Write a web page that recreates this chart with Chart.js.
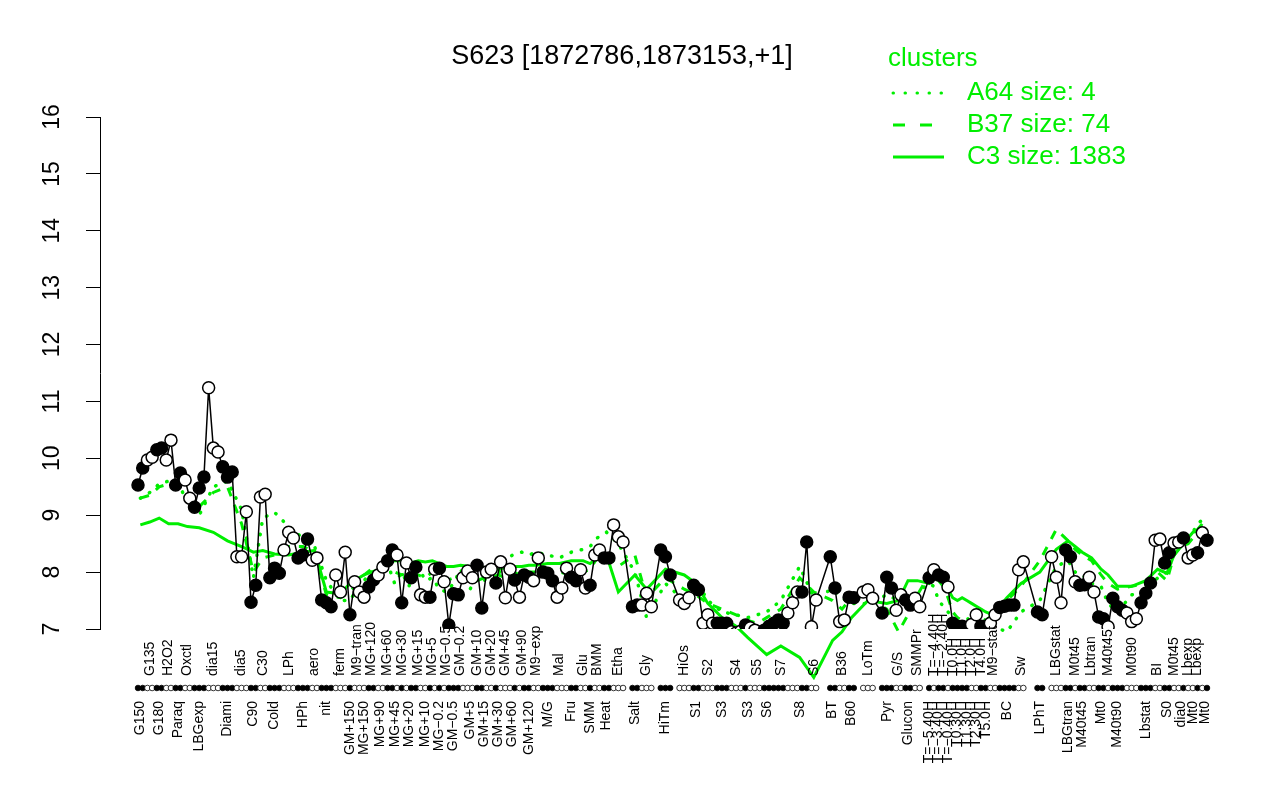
<!DOCTYPE html>
<html><head><meta charset="utf-8">
<script src="https://cdn.jsdelivr.net/npm/chart.js@4.4.1/dist/chart.umd.min.js"></script>
<style>html,body{margin:0;padding:0;background:#fff}canvas{display:block}</style>
</head><body>
<canvas id="c" width="1280" height="800"></canvas>
<script>
// ---------- DATA ----------
const title = "S623 [1872786,1873153,+1]";
const legendTitle = "clusters";
const legendItems = ["A64 size: 4", "B37 size: 74", "C3 size: 1383"];
const yTicks = [7, 8, 9, 10, 11, 12, 13, 14, 15, 16];

// condition groups (tick labels) in order along the x axis
const groups = ["G150","G135","G180","H2O2","Paraq","Oxctl","LBGexp","dia15","Diami","dia5",
 "C90","C30","Cold","LPh","HPh","aero","nit","ferm","GM+150","M9\u2212tran",
 "MG+150","MG+120",
 "MG+90","MG+60","MG+45","MG+30","MG+20","MG+15","MG+10","MG+5","MG\u22120.2","MG\u22120.5",
 "GM\u22120.5","GM\u22120.2","GM+5","GM+10","GM+15","GM+20","GM+30","GM+45","GM+60","GM+90",
 "GM+120",
 "M9\u2212exp","M/G","Mal","Fru","Glu","SMM","BMM","Heat","Etha","Salt",
 "Gly","HiTm","HiOs","S1","S2","S3","S4","S3","S5","S6",
 "S7","S8","S6","BT","B36","B60","LoTm","Pyr","G/S","Glucon",
 "SMMPr","T=\u22125.40H","T=\u22124.40H","T=\u22123.40H","T=\u22122.40H","T=\u22120.40H","T0.0H","T0.30H","T1.0H","T1.30H",
 "T2.0H","T2.30H","T4.0H","T5.0H","M9\u2212stat","BC","Sw","LPhT","LBGstat","LBGtran",
 "M0t45","M40t45","Lbtran","Mt0","M40t45","M40t90","M0t90","Lbstat","BI","S0",
 "M0t45","dia0","Lbexp","Mt0","Lbexp","Mt0"];

// number of sample slots in each group (null slots = spacing gaps between samples)
const groupSizes = [2,2,2,2,2,2,3,3,3,3, 2,2,3,3,3,2,3,3,1,2, 1,2,
 2,1,2,1,2,2,1,2,1,2, 1,2,2,1,2,1,2,1,2,2, 1,
 2,3,2,3,2,1,2,2,4,2, 4,4,3,2,3,3,3,2,2,2, 4,4,4,2,2,3,4,3,2,2,
 3,1,1,1,1,1,1,1,1,1, 1,1,1,1,2,4,4,3,3,2, 1,2,2,2,1,3,3,3,2,2,
 1,2,1,1,1,2];

// expression value of each slot (null = no sample, just spacing)
const values = [
 9.53,9.83, 9.97,10.02, 10.15,10.18, 9.97,10.32, 9.53,9.74, 9.62,9.30, 9.14,9.48,9.67,
 11.24,10.18,10.11, 9.85,9.67,9.76, 8.27,8.27,9.06, 7.47,7.77, 9.32,9.37,
 7.90,8.07,7.98, 8.39,8.70,8.60, 8.25,8.30,8.58, 8.21,8.25, 7.51,7.46,7.39, 7.95,7.65,8.35,
 7.25, 7.83,7.65, 7.56, 7.74,7.86,
 7.95,8.09, 8.20, 8.39,8.30, 7.46, 8.16,7.90, 8.09,7.60, 7.56, 7.56,8.05, 8.07,
 7.83,7.07, 7.62, 7.60,7.90, 8.02, 7.90,8.12, 7.37, 8.00,8.05, 7.81, 8.18,7.55, 8.05,7.86, 7.56,
 7.95,7.91, 7.85,8.25,
 8.00,7.98,7.85, 7.56,7.72, 8.07,7.91,7.85, 8.04,7.72, 7.77, 8.30,8.39, 8.25,8.25,
 8.83,8.62,8.53,null, 7.39,7.42, 7.42,7.63,7.39,null, 8.39,8.27,7.95,null, 7.51,7.45,7.55,
 7.77,7.69, 7.10,7.25,7.10, 7.10,7.10,7.10, 6.95,6.93,6.96, 7.07,7.02, 6.98,6.85, 6.98,7.05,
 7.10,7.16,7.10,7.28, 7.46,7.65,7.65,8.53, 7.04,7.51,null,null,
 8.27,7.72, 7.13,7.16, 7.56,7.55,null, 7.65,7.69,7.54,null, 7.28,7.91,7.72, 7.33,7.60, 7.51,7.42,
 7.54,7.39,null, 7.90, 8.04, 7.95, 7.91, 7.74, 7.10, 7.05, 7.05, 7.03, 7.08, 7.25, 7.05, 7.05,
 7.10,7.25, 7.38,7.40,7.42,7.42, 8.04,8.18,null,null, 7.30,7.25,null, 8.27,7.91,7.46, 8.39,8.27,
 7.83, 7.77,7.78, 7.91,7.65, 7.21,7.18, 7.04, 7.54,7.39,7.33, 7.28,7.13,7.18, 7.46,7.63,7.81,
 8.56,8.58, 8.16,8.34, 8.51, 8.53,8.60, 8.25, 8.30, 8.34, 8.69,8.56];

// marker fill of each slot (same line layout as values): B = filled, W = open, - = no sample
const fills = ("BBWWBBWWBBWWBBB" +
 "WWWBBBWWWBBWW" +
 "BBBWWWBBBWWBBBWWW" +
 "BWWWBB" +
 "WWBBWBWBBWWBWB" +
 "WBBBWWWBBWWBWWWBW" +
 "BBWW" +
 "BBBWWWBBWWBWWBB" +
 "WWW-BBWWW-BBB-WWW" +
 "BBWWWBBBWWWBWWWBB" +
 "BBBWWWBBWW--" +
 "BBWWBB-WWW-BBBWWBB" +
 "WW-BWBBWBBBBWWBB" +
 "WWBBBBWW--BB-WWWBB" +
 "WBBWWBBWBBBWWWBBB" +
 "WWBBWWBWWBWB").split("");

// cluster mean profiles, one value per group
const clusterA = [9.3,9.4,9.55,9.6,9.55,9.25,9.0,9.5,9.6,9.1,
 7.9,8.95,9.05,8.8,8.6,8.45,7.85,7.5,7.5,7.7, 7.85,8.0,
 7.95,8.15,7.8,8.0,7.75,8.1,7.85,7.9,7.7,7.65, 7.8,8.05,7.7,7.9,7.85,8.0,7.95,8.2,8.3,8.35, 8.3,
 8.35,8.3,8.25,8.35,8.4,8.45,8.6,8.7,8.5,8.0, 7.2,7.8,7.5,7.85,7.5,7.3,7.25,7.2,7.25,7.3,
 7.5,8.1,7.55,7.7,7.55,7.45,7.45,7.6,7.5,7.4,
 7.65,7.8,7.75,7.5,7.4,7.3,7.2,7.1,7.05,7.2, 7.1,7.05,7.0,7.1,7.05,6.95,7.3,7.5,8.1,8.2,
 8.0,7.95,7.8,7.75,7.45,7.3,7.6,7.65,7.9,8.0, 8.3,8.5,8.6,8.7,8.85,8.95];
const clusterB = [9.3,9.35,9.5,9.55,9.5,9.3,9.15,9.4,9.5,8.85,
 8.0,8.25,8.3,8.45,8.45,8.35,7.6,7.55,7.65,7.8, 7.95,8.05,
 8.0,8.05,8.0,7.95,8.0,7.95,7.9,8.0,7.95,7.85, 7.9,7.95,7.9,7.85,7.9,7.9,7.95,7.9,8.0,7.95, 8.0,
 8.0,8.05,8.0,7.95,8.0,8.05,8.25,8.3,8.1,8.3, 7.55,7.9,7.7,7.6,7.45,7.35,7.25,7.15,7.1,7.2,
 7.35,7.9,7.65,7.5,7.35,7.55,7.55,7.35,6.95,7.25,
 7.6,7.95,8.0,7.85,7.75,7.55,7.3,7.2,7.15,7.1, 7.1,7.15,7.2,7.15,7.25,7.5,7.75,8.2,8.75,8.55,
 8.4,8.3,8.2,7.95,7.8,7.7,7.75,7.8,8.0,7.85, 8.3,8.45,8.5,8.6,8.75,8.9];
const clusterC = [8.83,8.88,8.95,8.85,8.85,8.8,8.78,8.7,8.55,8.45,
 8.35,8.38,8.32,8.3,8.35,8.38,7.65,7.62,7.8,7.88, 7.95,8.0,
 8.05,8.15,8.2,8.2,8.15,8.2,8.18,8.2,8.15,8.1, 8.1,8.12,8.1,8.1,8.08,8.05,8.05,8.08,8.1,8.1, 8.12,
 8.12,8.15,8.15,8.2,8.2,8.15,8.25,8.3,7.65,7.95, 7.7,8.05,7.95,7.8,7.45,7.2,7.05,6.85,6.7,6.55,
 6.7,6.5,6.15,6.8,6.95,7.2,7.5,7.45,7.5,7.85,
 7.85,7.8,8.0,8.0,7.9,7.7,7.55,7.5,7.55,7.5, 7.45,7.4,7.35,7.3,7.25,7.55,7.8,8.0,8.4,8.55,
 8.45,8.35,8.25,8.05,7.95,7.75,7.75,7.85,8.05,7.98, 8.3,8.45,8.6,8.7,8.72,8.75];

// ---------- DERIVED ----------
const groupCenters = [];
(function(){
  let s = 0;
  groupSizes.forEach(n => {
    const idx = [];
    for (let k = s; k < s + n; k++) if (values[k] !== null) idx.push(k);
    groupCenters.push(idx.reduce((a, b) => a + b, 0) / idx.length);
    s += n;
  });
})();

const GREEN = '#00ee00';
const FONT = '"Liberation Sans", Arial, Helvetica, sans-serif';
Chart.defaults.font.family = FONT;

const ROW_Y = 688, UPPER_Y = 676;

const overlay = {
  id: 'overlay',
  afterDraw(chart) {
    const ctx = chart.ctx, xs = chart.scales.x;
    ctx.save();
    // sample strip
    for (let i = 0; i < values.length; i++) {
      if (values[i] === null) continue;
      const px = xs.getPixelForValue(i);
      ctx.beginPath();
      ctx.arc(px, ROW_Y, 2.8, 0, Math.PI * 2);
      ctx.fillStyle = fills[i] === 'B' ? '#000' : '#fff';
      ctx.fill();
      ctx.lineWidth = 0.8; ctx.strokeStyle = '#000'; ctx.stroke();
    }
    // labels above the strip (odd groups)
    ctx.font = '14px ' + FONT; ctx.fillStyle = '#000';
    ctx.textAlign = 'left'; ctx.textBaseline = 'middle';
    groupCenters.forEach((c, g) => {
      if (g % 2 === 1) {
        const px = xs.getPixelForValue(c);
        ctx.save(); ctx.translate(px, UPPER_Y); ctx.rotate(-Math.PI / 2);
        ctx.fillText(groups[g], 0, 0); ctx.restore();
      }
    });
    // title
    ctx.font = '27px ' + FONT; ctx.textAlign = 'center'; ctx.fillStyle = '#000';
    ctx.fillText(title, 622, 57);
    // legend
    ctx.fillStyle = GREEN; ctx.strokeStyle = GREEN; ctx.textAlign = 'left';
    ctx.font = '26px ' + FONT;
    ctx.fillText(legendTitle, 888, 59);
    const rows = [93, 125, 157];
    const dashes = [[0.5, 11.5], [12, 15], []];
    const caps = ['round', 'butt', 'butt'];
    rows.forEach((ry, k) => {
      ctx.beginPath(); ctx.setLineDash(dashes[k]); ctx.lineCap = caps[k];
      ctx.lineWidth = 3; ctx.moveTo(893, ry); ctx.lineTo(944, ry); ctx.stroke();
      ctx.setLineDash([]);
      ctx.fillText(legendItems[k], 967, ry);
    });
    ctx.restore();
  }
};

const lastIdx = values.length - 1;
new Chart(document.getElementById('c'), {
  type: 'line',
  data: { datasets: [
    { label: 'expression', data: values.map((v, i) => ({x: i, y: v})),
      borderColor: '#000', borderWidth: 1.5, tension: 0, spanGaps: true,
      pointRadius: 6, pointHoverRadius: 6, pointBorderWidth: 1.5,
      pointBackgroundColor: fills.map(f => f === 'B' ? '#000' : '#fff'),
      pointBorderColor: '#000', order: 0 },
    { label: legendItems[2], data: groupCenters.map((c, g) => ({x: c, y: clusterC[g]})),
      borderColor: GREEN, borderWidth: 3, pointRadius: 0, tension: 0, order: 1, clip: false },
    { label: legendItems[1], data: groupCenters.map((c, g) => ({x: c, y: clusterB[g]})),
      borderColor: GREEN, borderWidth: 3, borderDash: [9, 9], pointRadius: 0, tension: 0, order: 2, clip: false },
    { label: legendItems[0], data: groupCenters.map((c, g) => ({x: c, y: clusterA[g]})),
      borderColor: GREEN, borderWidth: 3.5, borderDash: [0.5, 10], borderCapStyle: 'round',
      pointRadius: 0, tension: 0, order: 3, clip: false }
  ]},
  options: {
    responsive: false, animation: false, devicePixelRatio: 1, events: [],
    layout: { padding: { top: 117, right: 30, left: 0, bottom: 0 } },
    plugins: { legend: { display: false }, tooltip: { enabled: false }, title: { display: false } },
    scales: {
      x: { type: 'linear', min: -8.07, max: lastIdx + 9.13,
        grid: { display: false, drawTicks: false }, border: { display: false },
        afterBuildTicks: sc => { sc.ticks = groupCenters.map(v => ({value: v})); },
        afterFit: sc => { sc.height = 171; sc.paddingLeft = 0; sc.paddingRight = 0; },
        ticks: { autoSkip: false, minRotation: 90, maxRotation: 90, padding: 72,
          color: '#000', font: { size: 14 },
          callback: (v, i) => (i % 2 === 0 ? groups[i] : '') } },
      y: { min: 7, max: 16,
        afterFit: sc => { sc.width = 100; sc.paddingTop = 0; sc.paddingBottom = 0; },
        afterBuildTicks: sc => { sc.ticks = yTicks.map(v => ({value: v})); },
        border: { display: true, color: '#000', width: 1 },
        grid: { drawOnChartArea: false, drawTicks: true, tickLength: 14, color: '#000', lineWidth: 1 },
        ticks: { minRotation: 90, maxRotation: 90, crossAlign: 'center', padding: 21,
          color: '#000', font: { size: 23 }, callback: v => String(v) } }
    }
  },
  plugins: [overlay]
});
</script>
</body></html>
